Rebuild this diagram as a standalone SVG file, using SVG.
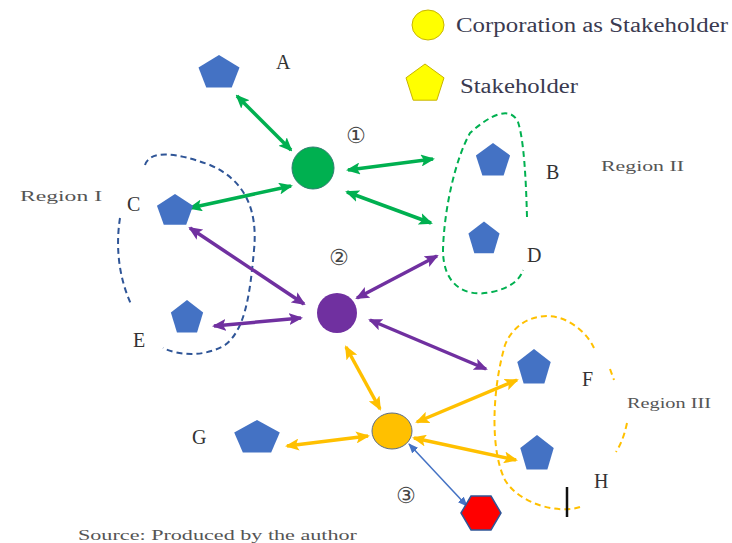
<svg xmlns="http://www.w3.org/2000/svg" width="732" height="543" viewBox="0 0 732 543">
<style>
.lbl{font-family:"Liberation Serif",serif;font-size:20px;fill:#333}
.reg{font-family:"Liberation Serif",serif;font-size:15px;fill:#555}
.leg{font-family:"Liberation Serif",serif;font-size:20px;fill:#3a3a50}
.num{font-family:"DejaVu Sans","Noto Sans CJK JP",sans-serif;font-size:22px;fill:#444}
.pent{fill:#4472C4}
.g{stroke:#00B050;stroke-width:3.5;fill:none;marker-start:url(#mg);marker-end:url(#mg)}
.p{stroke:#7030A0;stroke-width:3.5;fill:none;marker-start:url(#mp);marker-end:url(#mp)}
.o{stroke:#FFC000;stroke-width:3.5;fill:none;marker-start:url(#mo);marker-end:url(#mo)}
.b{stroke:#4472C4;stroke-width:1.5;fill:none;marker-start:url(#mb);marker-end:url(#mb)}
.dash{fill:none;stroke-width:2;stroke-dasharray:6 4}
</style>
<defs>
<path id="pg" d="M0,-20 L19,-6.2 L11.8,16.2 L-11.8,16.2 L-19,-6.2 Z"/>
<marker id="mg" viewBox="0 0 14 12" refX="12" refY="6" markerWidth="14" markerHeight="12" markerUnits="userSpaceOnUse" orient="auto-start-reverse"><path d="M0,0 L14,6 L0,12 L3,6 Z" fill="#00B050"/></marker>
<marker id="mp" viewBox="0 0 14 12" refX="12" refY="6" markerWidth="14" markerHeight="12" markerUnits="userSpaceOnUse" orient="auto-start-reverse"><path d="M0,0 L14,6 L0,12 L3,6 Z" fill="#7030A0"/></marker>
<marker id="mo" viewBox="0 0 14 12" refX="12" refY="6" markerWidth="14" markerHeight="12" markerUnits="userSpaceOnUse" orient="auto-start-reverse"><path d="M0,0 L14,6 L0,12 L3,6 Z" fill="#FFC000"/></marker>
<marker id="mb" viewBox="0 0 10 8" refX="9" refY="4" markerWidth="10" markerHeight="8" markerUnits="userSpaceOnUse" orient="auto-start-reverse"><path d="M0,0 L10,4 L0,8 Z" fill="#4472C4"/></marker>
</defs>
<rect width="732" height="543" fill="#fff"/>

<g id="regions">
<path class="dash" stroke="#2F5597" d="M145,165 C150,150 175,152 210,165 C245,180 258,210 254,250 C250,295 245,330 225,345 C205,357 180,356 163,348"/>
<path class="dash" stroke="#2F5597" d="M120,218 C115,250 120,280 131,304"/>
<path class="dash" stroke="#00B050" d="M527,217 C526,180 524,140 518,122 C510,105 490,115 470,133 C455,160 444,210 443,250 C443,285 465,298 492,292 C510,288 520,280 523,270"/>
<path class="dash" stroke="#FFC000" d="M580,507 C560,514 520,505 505,480 C490,450 492,390 505,345 C515,320 540,312 560,318 C575,323 588,335 594,348"/>
<path class="dash" stroke="#FFC000" d="M610,369 L614,380"/>
<path class="dash" stroke="#FFC000" d="M627,423 C624,437 620,446 616,452"/>
</g>

<g id="connectors">
<line class="g" x1="237" y1="96" x2="291" y2="150"/>
<line class="g" x1="348" y1="170" x2="433" y2="159"/>
<line class="g" x1="347" y1="192" x2="431" y2="223"/>
<line class="g" x1="291" y1="186" x2="190" y2="208"/>
<line class="p" x1="190" y1="228" x2="304" y2="304"/>
<line class="p" x1="214" y1="326" x2="301" y2="318"/>
<line class="p" x1="357" y1="298" x2="437" y2="256"/>
<line class="p" x1="370" y1="320" x2="486" y2="369"/>
<line class="o" x1="346" y1="347" x2="380" y2="409"/>
<line class="o" x1="417" y1="422" x2="517" y2="380"/>
<line class="o" x1="287" y1="446" x2="368" y2="436"/>
<line class="o" x1="414" y1="438" x2="516" y2="460"/>
<line class="b" x1="409" y1="444" x2="467" y2="506"/>
</g>

<g id="legend">
<ellipse cx="428" cy="25" rx="16" ry="15" fill="#FFFF00" stroke="#C8B400" stroke-width="1"/>
<text class="leg" x="456" y="32" textLength="272" lengthAdjust="spacingAndGlyphs">Corporation as Stakeholder</text>
<use href="#pg" transform="translate(425,84)" fill="#FFFF00" stroke="#C8B400" stroke-width="1"/>
<text class="leg" x="460" y="93" textLength="118" lengthAdjust="spacingAndGlyphs">Stakeholder</text>
</g>

<g id="node-hub1">
<circle cx="313" cy="168" r="21" fill="#00B050" stroke="#2F7F6F" stroke-width="1"/>
<text class="num" x="346" y="143">①</text>
</g>
<g id="node-hub2">
<circle cx="337" cy="313" r="20" fill="#7030A0"/>
<text class="num" x="329" y="265">②</text>
</g>
<g id="node-corp">
<ellipse cx="392" cy="431" rx="20" ry="18" fill="#FFC000" stroke="#5A6E8C" stroke-width="1"/>
<text class="num" x="396" y="503">③</text>
</g>
<g id="node-hex">
<polygon points="461,513 471,496 491,496 501,513 491,530 471,530" fill="#FF0000" stroke="#2F5597" stroke-width="1.5"/>
</g>
<line x1="567" y1="487" x2="567" y2="517" stroke="#111" stroke-width="2.5"/>

<g id="node-A"><use href="#pg" class="pent" transform="translate(219,73) scale(1.08,0.9)"/><text class="lbl" x="276" y="69">A</text></g>
<g id="node-B"><use href="#pg" class="pent" transform="translate(493,161) scale(0.9,0.9)"/><text class="lbl" x="546" y="179">B</text></g>
<g id="node-C"><use href="#pg" class="pent" transform="translate(175,211) scale(0.95,0.85)"/><text class="lbl" x="127" y="211">C</text></g>
<g id="node-D"><use href="#pg" class="pent" transform="translate(484,239) scale(0.82,0.88)"/><text class="lbl" x="527" y="262">D</text></g>
<g id="node-E"><use href="#pg" class="pent" transform="translate(187,318) scale(0.85,0.9)"/><text class="lbl" x="133" y="347">E</text></g>
<g id="node-F"><use href="#pg" class="pent" transform="translate(534,368) scale(0.88,0.95)"/><text class="lbl" x="582" y="386">F</text></g>
<g id="node-G"><use href="#pg" class="pent" transform="translate(257,438) scale(1.2,0.9)"/><text class="lbl" x="192" y="444">G</text></g>
<g id="node-H"><use href="#pg" class="pent" transform="translate(537,454) scale(0.88,0.95)"/><text class="lbl" x="594" y="488">H</text></g>

<text class="reg" x="20" y="201" textLength="82" lengthAdjust="spacingAndGlyphs">Region  I</text>
<text class="reg" x="601" y="171" textLength="83" lengthAdjust="spacingAndGlyphs">Region  II</text>
<text class="reg" x="627" y="408" textLength="84" lengthAdjust="spacingAndGlyphs">Region III</text>
<text class="reg" x="78" y="540" font-size="16" textLength="279" lengthAdjust="spacingAndGlyphs">Source: Produced by the author</text>
</svg>
